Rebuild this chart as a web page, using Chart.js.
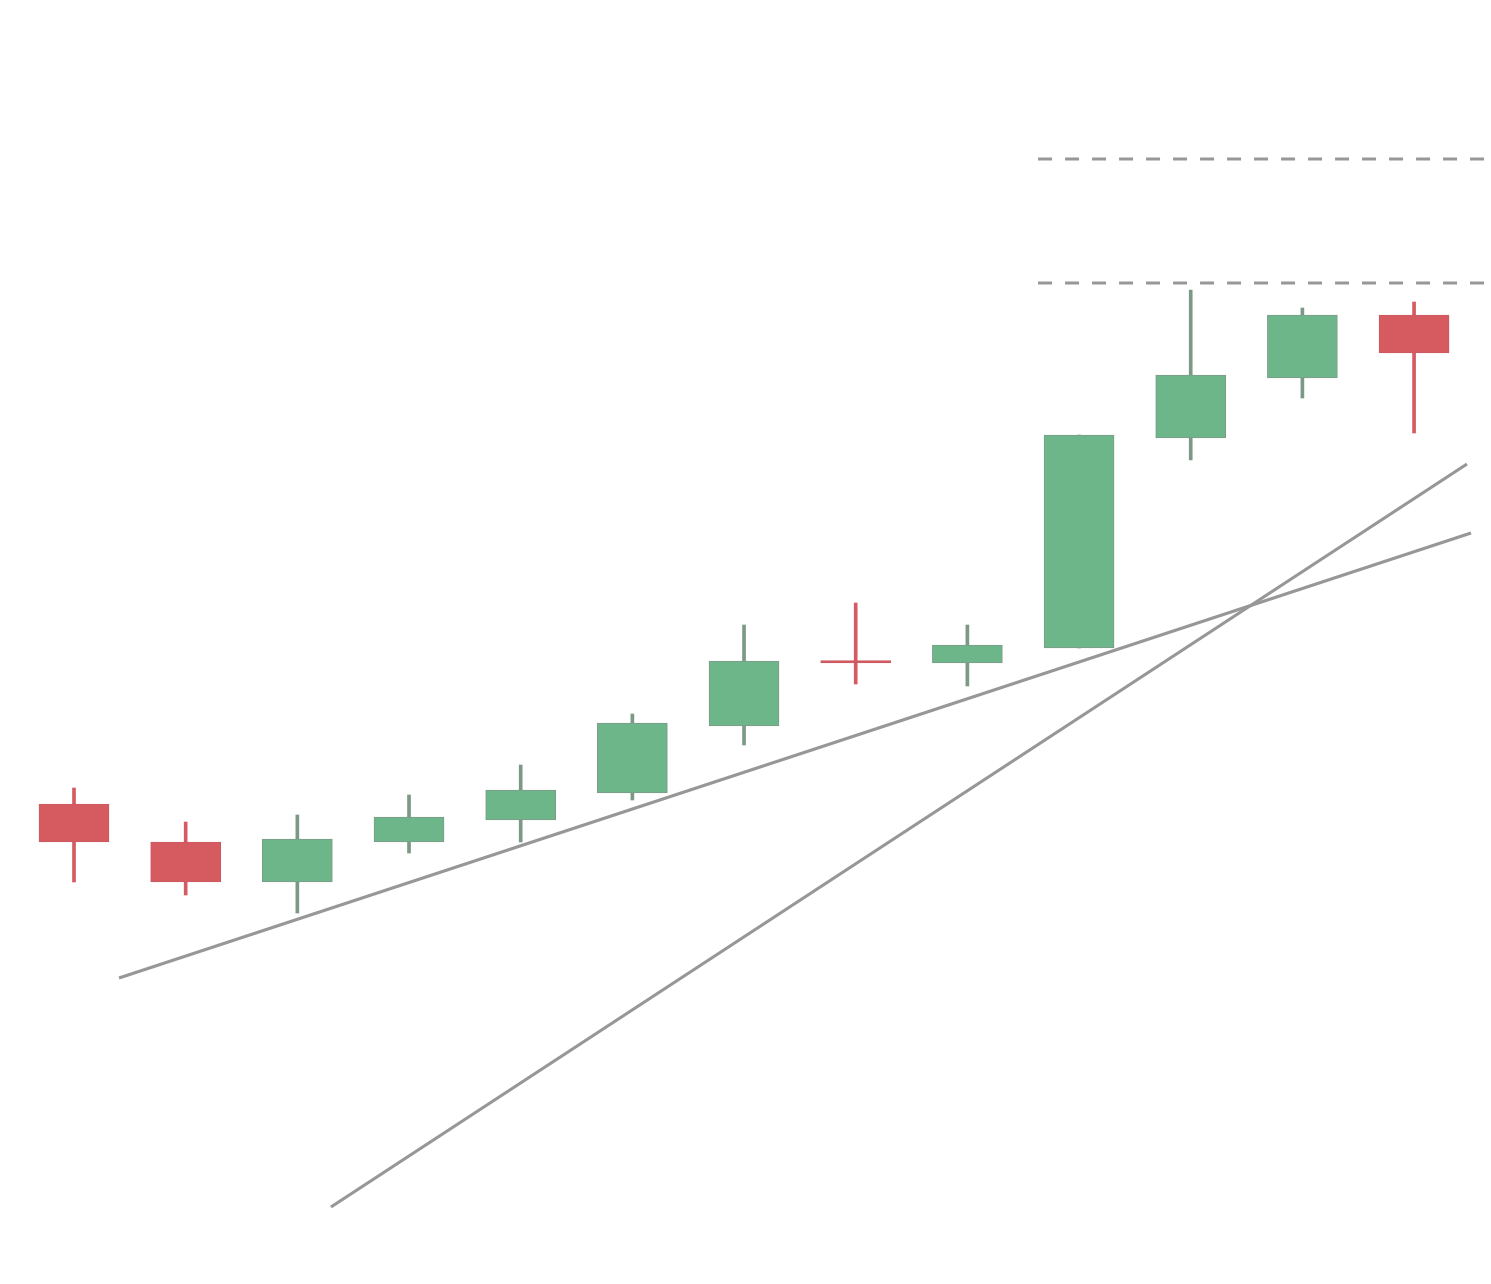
<!DOCTYPE html>
<html>
<head>
<meta charset="utf-8">
<script src="https://cdn.jsdelivr.net/npm/chart.js@4.4.1/dist/chart.umd.min.js"></script>
<style>
  html, body { margin: 0; padding: 0; background: #fff; }
  #wrap { width: 1491px; height: 1284px; position: relative; }
</style>
</head>
<body>
<div id="wrap"><canvas id="chart"></canvas></div>
<script>
// candle index on the x axis
const candles = [0, 1, 2, 3, 4, 5, 6, 7, 8, 9, 10, 11, 12];
const opens  = [48.0, 44.2, 40.2, 44.2, 46.4, 49.1, 55.8, 62.35, 62.1, 63.6, 84.6, 90.6, 96.9];
const highs  = [49.6, 46.2, 46.9, 48.9, 51.9, 57.0, 65.9, 68.1, 65.9, 84.9, 99.4, 97.6, 98.2];
const lows   = [40.2, 38.9, 37.1, 43.1, 44.2, 48.4, 53.9, 60.0, 59.8, 63.6, 82.4, 88.6, 85.1];
const closes = [44.2, 40.2, 44.5, 46.7, 49.4, 56.1, 62.3, 62.1, 63.9, 84.9, 90.9, 96.9, 93.1];

// trend lines: [start, end]
const trendSlowX = [0.403, 12.51];
const trendSlowY = [30.6, 75.1];
const trendFastX = [2.301, 12.474];
const trendFastY = [7.7, 82.0];

// horizontal resistance levels, drawn from levelStart to the right edge
const levels = [112.5, 100.1];
const levelStart = 8.633;

const xMin = -0.6627, xMax = 12.689;
const yMin = 0, yMax = 128.4;

const isUp = candles.map((c, i) => closes[i] >= opens[i]);
const bodyColors = isUp.map((u) => u ? "#6db68a" : "#d65b60");
const bodyBorders = isUp.map((u) => u ? "#7f9a88" : "#c95a60");
const wickColors = isUp.map((u) => u ? "#7c9886" : "#d45b61");

const bodies = candles.map((c, i) => ({ x: c, y: [opens[i], closes[i]] }));
const wicks = candles.map((c, i) => ({ x: c, y: [lows[i], highs[i]] }));

const lineStyle = {
  type: "line",
  borderColor: "#979797",
  borderWidth: 3.2,
  pointRadius: 0,
  fill: false,
  order: 0,
};

const datasets = [
  {
    label: "body",
    data: bodies,
    backgroundColor: bodyColors,
    borderColor: bodyBorders,
    borderWidth: 1,
    borderSkipped: false,
    barThickness: 70,
    grouped: false,
    order: 1,
  },
  {
    label: "wick",
    data: wicks,
    backgroundColor: wickColors,
    borderWidth: 0,
    barThickness: 3,
    grouped: false,
    order: 2,
  },
  {
    ...lineStyle,
    label: "trend slow",
    data: trendSlowX.map((x, i) => ({ x: x, y: trendSlowY[i] })),
  },
  {
    ...lineStyle,
    label: "trend fast",
    data: trendFastX.map((x, i) => ({ x: x, y: trendFastY[i] })),
  },
];

levels.forEach((lv) => {
  datasets.push({
    ...lineStyle,
    label: "level " + lv,
    borderDash: [14, 13],
    data: [{ x: levelStart, y: lv }, { x: xMax, y: lv }],
  });
});

new Chart(document.getElementById("chart"), {
  type: "bar",
  data: { datasets: datasets },
  options: {
    responsive: true,
    maintainAspectRatio: false,
    animation: false,
    layout: { padding: 0 },
    plugins: {
      legend: { display: false },
      tooltip: { enabled: false },
    },
    scales: {
      x: { type: "linear", min: xMin, max: xMax, offset: false, display: false },
      y: { type: "linear", min: yMin, max: yMax, display: false },
    },
  },
});
</script>
</body>
</html>
